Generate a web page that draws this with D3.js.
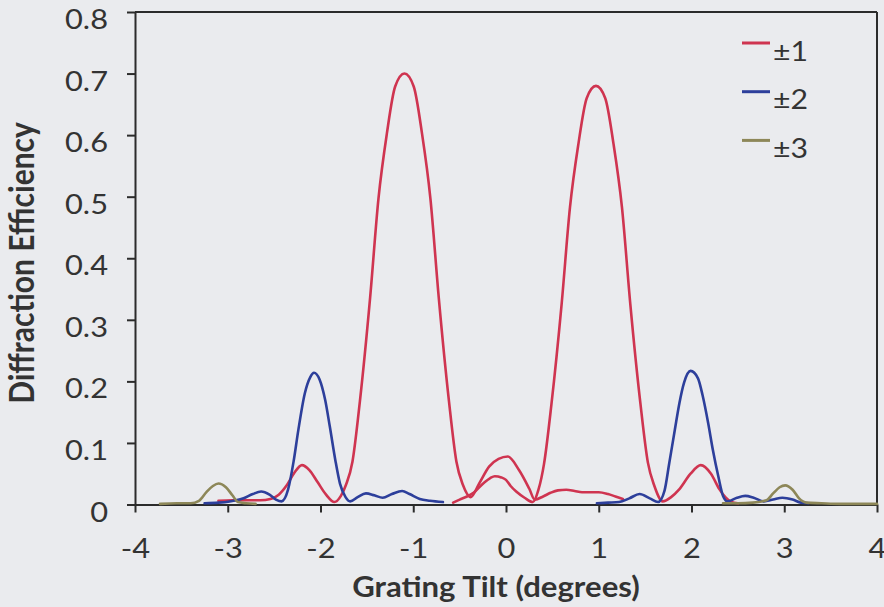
<!DOCTYPE html>
<html>
<head>
<meta charset="utf-8">
<script src="https://cdn.jsdelivr.net/npm/d3@7"></script>
<style>
  html, body { margin: 0; padding: 0; background: #eaebee; }
  svg { display: block; }
  text { font-family: Lato, "Open Sans", sans-serif; fill: #333333; }
</style>
</head>
<body>
<svg id="chart" width="884" height="607"></svg>
<script>
// Diffraction efficiency of the ±1, ±2 and ±3 orders versus grating tilt.
// Each order is measured on both sides of normal incidence, so every colour
// has two traces: [tilt in degrees, efficiency].

const orderLabels = ["\u00b11", "\u00b12", "\u00b13"];
const orderColors = ["#cf3450", "#2d3f9b", "#8d8758"];

const xTicks = [-4, -3, -2, -1, 0, 1, 2, 3, 4];
const yTicks = [0, 0.1, 0.2, 0.3, 0.4, 0.5, 0.6, 0.7, 0.8];

const first1 = [
  [-3.10, 0.006], [-2.95, 0.007], [-2.80, 0.007], [-2.65, 0.007], [-2.54, 0.009],
  [-2.45, 0.016], [-2.36, 0.032], [-2.28, 0.052], [-2.20, 0.064], [-2.12, 0.056],
  [-2.03, 0.036], [-1.94, 0.016], [-1.85, 0.004], [-1.78, 0.014], [-1.725, 0.032],
  [-1.655, 0.070], [-1.575, 0.168], [-1.465, 0.336], [-1.375, 0.497], [-1.285, 0.602],
  [-1.195, 0.679], [-1.095, 0.700], [-0.995, 0.679], [-0.905, 0.602], [-0.815, 0.497],
  [-0.725, 0.336], [-0.615, 0.168], [-0.535, 0.070], [-0.465, 0.032], [-0.38, 0.012],
  [-0.29, 0.034], [-0.18, 0.062], [-0.08, 0.074], [0.02, 0.078], [0.14, 0.056],
  [0.25, 0.026], [0.31, 0.008], [0.40, 0.013], [0.48, 0.019], [0.56, 0.023],
  [0.65, 0.024], [0.74, 0.022], [0.82, 0.020], [0.91, 0.020], [1.00, 0.020],
  [1.10, 0.017], [1.18, 0.013], [1.26, 0.009]
];

const second1 = [
  [-0.57, 0.003], [-0.50, 0.008], [-0.42, 0.013], [-0.35, 0.019], [-0.24, 0.035],
  [-0.17, 0.043], [-0.12, 0.046], [-0.05, 0.044], [0.00, 0.040], [0.05, 0.030],
  [0.11, 0.021], [0.20, 0.011], [0.29, 0.004], [0.35, 0.024], [0.41, 0.066],
  [0.49, 0.163], [0.60, 0.326], [0.69, 0.483], [0.78, 0.585], [0.87, 0.660],
  [0.97, 0.680], [1.07, 0.660], [1.16, 0.585], [1.25, 0.483], [1.34, 0.326],
  [1.45, 0.163], [1.53, 0.068], [1.60, 0.030], [1.69, 0.005], [1.78, 0.012],
  [1.87, 0.025], [1.99, 0.050], [2.10, 0.064], [2.21, 0.050], [2.30, 0.025],
  [2.37, 0.011], [2.43, 0.004], [2.50, 0.002]
];

const first2 = [
  [-3.25, 0.002], [-3.10, 0.003], [-2.98, 0.005], [-2.83, 0.010], [-2.73, 0.017],
  [-2.64, 0.021], [-2.55, 0.016], [-2.48, 0.008], [-2.42, 0.005], [-2.35, 0.024],
  [-2.29, 0.070], [-2.24, 0.120], [-2.17, 0.180], [-2.11, 0.207], [-2.07, 0.214],
  [-2.01, 0.203], [-1.95, 0.170], [-1.90, 0.127], [-1.84, 0.072], [-1.79, 0.034],
  [-1.73, 0.012], [-1.68, 0.005], [-1.60, 0.012], [-1.51, 0.018], [-1.42, 0.015],
  [-1.33, 0.011], [-1.23, 0.017], [-1.12, 0.022], [-1.04, 0.017], [-0.93, 0.009],
  [-0.82, 0.006], [-0.68, 0.004]
];

const second2 = [
  [0.98, 0.002], [1.10, 0.003], [1.22, 0.004], [1.33, 0.010], [1.44, 0.017],
  [1.55, 0.010], [1.64, 0.004], [1.71, 0.023], [1.76, 0.067], [1.82, 0.121],
  [1.87, 0.165], [1.92, 0.198], [1.99, 0.217], [2.07, 0.205], [2.12, 0.177],
  [2.18, 0.132], [2.23, 0.089], [2.29, 0.045], [2.34, 0.014], [2.39, 0.005],
  [2.49, 0.011], [2.58, 0.014], [2.67, 0.011], [2.78, 0.005], [2.88, 0.008],
  [2.98, 0.011], [3.09, 0.008], [3.18, 0.003], [3.26, 0.002]
];

const first3 = [
  [-3.73, 0.001], [-3.55, 0.002], [-3.40, 0.002], [-3.31, 0.006], [-3.23, 0.020],
  [-3.16, 0.030], [-3.10, 0.034], [-3.02, 0.028], [-2.95, 0.015], [-2.89, 0.004],
  [-2.80, 0.002], [-2.70, 0.001]
];

const second3 = [
  [2.34, 0.002], [2.50, 0.002], [2.66, 0.003], [2.81, 0.007], [2.88, 0.018],
  [2.95, 0.028], [3.01, 0.031], [3.09, 0.024], [3.16, 0.010], [3.24, 0.003],
  [3.40, 0.002], [3.60, 0.001], [3.80, 0.001], [4.00, 0.001]
];

const traces = [
  { order: 0, points: first1 }, { order: 0, points: second1 },
  { order: 1, points: first2 }, { order: 1, points: second2 },
  { order: 2, points: first3 }, { order: 2, points: second3 }
];

// Layout
const plotLeft = 135, plotRight = 877, plotTop = 12, plotBottom = 504.5;
const stretch = 1.12;   // the typeface is set slightly wide

const svg = d3.select("#chart");

const x = d3.scaleLinear().domain([-4, 4]).range([plotLeft, plotRight]);
const y = d3.scaleLinear().domain([0, 0.8]).range([plotBottom, plotTop]);

const ink = "#2b2b2b";

// Frame: top and right edges
svg.append("line").attr("x1", plotLeft).attr("x2", plotRight)
  .attr("y1", plotTop).attr("y2", plotTop)
  .attr("stroke", ink).attr("stroke-width", 2);
svg.append("line").attr("x1", plotRight).attr("x2", plotRight)
  .attr("y1", plotTop).attr("y2", plotBottom)
  .attr("stroke", ink).attr("stroke-width", 2);

// Y axis
const yAxis = svg.append("g")
  .attr("transform", `translate(${plotLeft},0)`)
  .call(d3.axisLeft(y).tickValues(yTicks).tickSize(8).tickSizeOuter(0)
    .tickFormat(d => d === 0 ? "0" : d3.format(".1f")(d)));
yAxis.select(".domain").attr("stroke", ink).attr("stroke-width", 2);
yAxis.selectAll(".tick line").attr("stroke", ink).attr("stroke-width", 2);
yAxis.selectAll(".tick text")
  .attr("x", null).attr("dy", null)
  .attr("transform", `translate(-27,16.5) scale(${stretch},1)`)
  .attr("text-anchor", "end")
  .style("font-size", "27.5px").style("fill", "#333333");

// X axis
const xAxis = svg.append("g")
  .attr("transform", `translate(0,${plotBottom})`)
  .call(d3.axisBottom(x).tickValues(xTicks).tickSize(8).tickSizeOuter(0)
    .tickFormat(d => String(d)));
xAxis.select(".domain").attr("stroke", ink).attr("stroke-width", 2);
xAxis.selectAll(".tick line").attr("stroke", ink).attr("stroke-width", 2);
xAxis.selectAll(".tick text")
  .attr("y", null).attr("dy", null)
  .attr("transform", `translate(0,53.5) scale(${stretch},1)`)
  .attr("text-anchor", "middle")
  .style("font-size", "27.5px").style("fill", "#333333");

// Axis titles
svg.append("g").attr("transform", `translate(496,597) scale(${stretch},1)`)
  .append("text").attr("text-anchor", "middle")
  .style("font-size", "27.8px").style("font-weight", "700")
  .text("Grating Tilt (degrees)");

svg.append("g").attr("transform", `translate(34,263) scale(${stretch},1) rotate(-90)`)
  .append("text").attr("text-anchor", "middle")
  .style("font-size", "30px").style("font-weight", "700")
  .text("Diffraction Efficiency");

// Traces
const line = d3.line()
  .x(d => x(d[0]))
  .y(d => y(d[1]))
  .curve(d3.curveMonotoneX);

svg.append("g").selectAll("path")
  .data(traces)
  .join("path")
  .attr("d", d => line(d.points))
  .attr("fill", "none")
  .attr("stroke", d => orderColors[d.order])
  .attr("stroke-width", 2.6)
  .attr("stroke-linejoin", "round")
  .attr("stroke-linecap", "round");

// Legend
const legend = svg.append("g").attr("transform", "translate(742,43)");
const rows = legend.selectAll("g").data(orderLabels).join("g")
  .attr("transform", (d, i) => `translate(0,${i * 48.7})`);
rows.append("line").attr("x1", 0).attr("x2", 28).attr("y1", 0).attr("y2", 0)
  .attr("stroke", (d, i) => orderColors[i]).attr("stroke-width", 3);
rows.append("g").attr("transform", `translate(31,17.5) scale(${stretch},1)`)
  .append("text")
  .style("font-size", "27px")
  .text(d => d);
</script>
</body>
</html>
